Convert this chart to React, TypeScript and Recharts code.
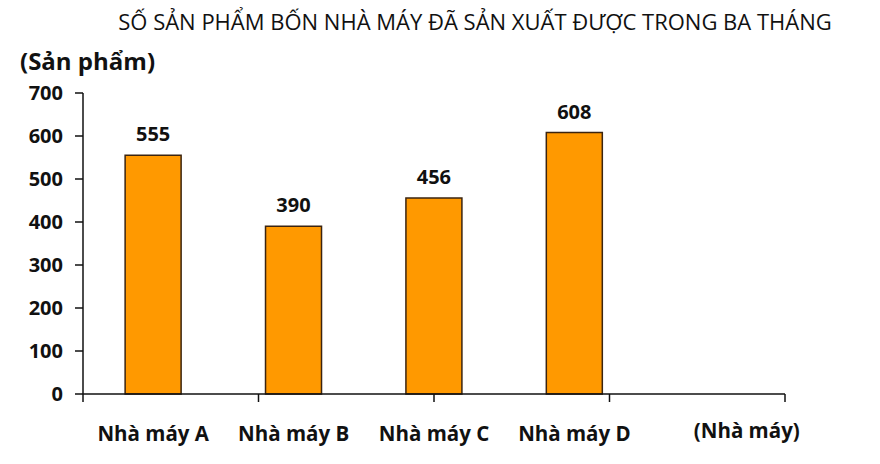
import { Bar, BarChart, LabelList, XAxis, YAxis } from "recharts";

const FACTORIES = ["Nhà máy A", "Nhà máy B", "Nhà máy C", "Nhà máy D", "(Nhà máy)"];
const PRODUCTS = [555, 390, 456, 608, null];
const Y_TICKS = [0, 100, 200, 300, 400, 500, 600, 700];
const BAND_EDGES = [0, 1, 2, 3, 4, 5];

const TITLE = "SỐ SẢN PHẨM BỐN NHÀ MÁY ĐÃ SẢN XUẤT ĐƯỢC TRONG BA THÁNG";
const Y_UNIT = "(Sản phẩm)";

const FONT = "'Open Sans', 'Noto Sans', sans-serif";
const ORANGE = "#ff9900";
const INK = "#111";

const rows = FACTORIES.map((name, i) => ({ name, value: PRODUCTS[i] }));

// last category is the axis unit, drawn a bit to the right like the original
function FactoryTick(props: any) {
  const { x, y, payload } = props;
  const isUnit = payload.value === FACTORIES[FACTORIES.length - 1];
  return (
    <text
      x={x + (isUnit ? 32 : 0)}
      y={y + (isUnit ? 22 : 25)}
      textAnchor="middle"
      dominantBaseline="central"
      fontFamily={FONT}
      fontWeight={700}
      fontSize={20.5}
      fill={INK}
    >
      {payload.value}
    </text>
  );
}

export default function App() {
  return (
    <div
      style={{
        position: "absolute",
        left: 0,
        top: 0,
        width: 880,
        height: 464,
        background: "#fff",
        fontFamily: FONT,
      }}
    >
      <div
        style={{
          position: "absolute",
          left: 0,
          width: 950,
          top: 6,
          textAlign: "center",
          fontSize: 22,
          lineHeight: "30px",
          color: INK,
          whiteSpace: "nowrap",
        }}
      >
        {TITLE}
      </div>
      <div
        style={{
          position: "absolute",
          left: 20,
          top: 44,
          fontSize: 24,
          lineHeight: "34px",
          fontWeight: 700,
          color: INK,
        }}
      >
        {Y_UNIT}
      </div>
      <BarChart
        width={880}
        height={464}
        data={rows}
        margin={{ top: 93, right: 95, bottom: 20, left: 8 }}
        barCategoryGap="30%"
      >
        <XAxis
          xAxisId="edges"
          type="number"
          domain={[0, 5]}
          ticks={BAND_EDGES}
          tickFormatter={() => ""}
          tickSize={8}
          height={8}
          stroke={INK}
          strokeWidth={1.5}
          allowDataOverflow
        />
        <XAxis
          xAxisId="names"
          dataKey="name"
          axisLine={false}
          tickLine={false}
          height={42}
          tickMargin={0}
          tick={<FactoryTick />}
          interval={0}
        />
        <YAxis
          domain={[0, 700]}
          ticks={Y_TICKS}
          width={75}
          tickSize={8}
          tickMargin={12}
          stroke={INK}
          strokeWidth={1.5}
          tick={{
            fill: INK,
            fontFamily: FONT,
            fontWeight: 700,
            fontSize: 20,
          }}
        />
        <Bar
          xAxisId="names"
          dataKey="value"
          fill={ORANGE}
          stroke="#3b2410"
          strokeWidth={1.5}
          isAnimationActive={false}
        >
          <LabelList
            dataKey="value"
            position="top"
            offset={14}
            fill={INK}
            fontFamily={FONT}
            fontWeight={700}
            fontSize={20}
          />
        </Bar>
      </BarChart>
    </div>
  );
}
